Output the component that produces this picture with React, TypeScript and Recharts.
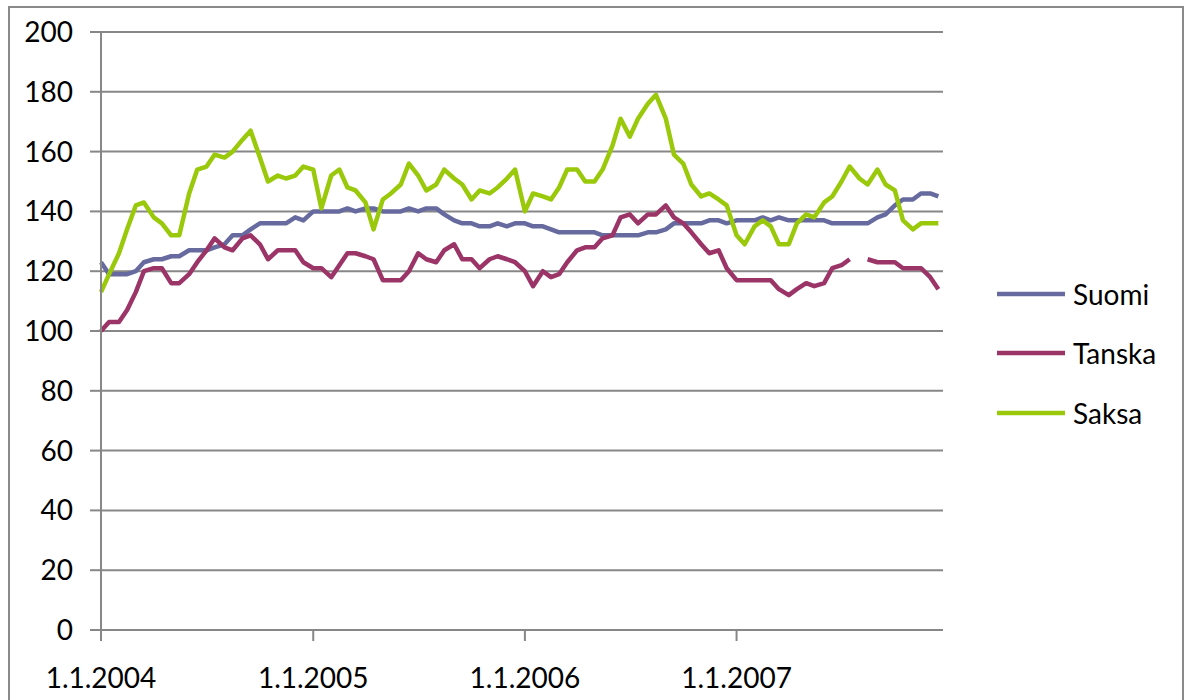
import React from 'react';
import { LineChart, Line, XAxis, YAxis, CartesianGrid } from 'recharts';

// half-monthly observations (1st and 15th), 1.1.2004 – 15.12.2007
const years = [2004, 2005, 2006, 2007];
const dayOfMonth = [1, 15];

const suomi = [
  123, 119, 119, 119, 120, 123, 124, 124, 125, 125, 127, 127, 127, 128, 129, 132, 132, 134, 136, 136, 136, 136, 138, 137,
  140, 140, 140, 140, 141, 140, 141, 141, 140, 140, 140, 141, 140, 141, 141, 139, 137, 136, 136, 135, 135, 136, 135, 136,
  136, 135, 135, 134, 133, 133, 133, 133, 133, 132, 132, 132, 132, 132, 133, 133, 134, 136, 136, 136, 136, 137, 137, 136,
  137, 137, 137, 138, 137, 138, 137, 137, 137, 137, 137, 136, 136, 136, 136, 136, 138, 139, 142, 144, 144, 146, 146, 145,
];

const tanska: (number | null)[] = [
  100, 103, 103, 107, 113, 120, 121, 121, 116, 116, 119, 123, 127, 131, 128, 127, 131, 132, 129, 124, 127, 127, 127, 123,
  121, 121, 118, 122, 126, 126, 125, 124, 117, 117, 117, 120, 126, 124, 123, 127, 129, 124, 124, 121, 124, 125, 124, 123,
  120, 115, 120, 118, 119, 123, 127, 128, 128, 131, 132, 138, 139, 136, 139, 139, 142, 138, 136, 133, 129, 126, 127, 121,
  117, 117, 117, 117, 117, 114, 112, 114, 116, 115, 116, 121, 122, 124, null, 124, 123, 123, 123, 121, 121, 121, 118, 114,
];

const saksa = [
  113, 119, 126, 134, 142, 143, 138, 136, 132, 132, 146, 154, 155, 159, 158, 160, 164, 167, 158, 150, 152, 151, 152, 155,
  154, 141, 152, 154, 148, 147, 143, 134, 144, 146, 149, 156, 152, 147, 149, 154, 151, 149, 144, 147, 146, 148, 151, 154,
  140, 146, 145, 144, 148, 154, 154, 150, 150, 154, 162, 171, 165, 171, 176, 179, 171, 159, 156, 149, 145, 146, 144, 142,
  132, 129, 135, 137, 135, 129, 129, 136, 139, 138, 143, 145, 150, 155, 151, 149, 154, 149, 147, 137, 134, 136, 136, 136,
];

const yTicks = [0, 20, 40, 60, 80, 100, 120, 140, 160, 180, 200];
const xTickYears = [2004, 2005, 2006, 2007];

const DAY = 86400000;
const origin = Date.UTC(2004, 0, 1);
const toDay = (y: number, m: number, d: number) => Math.round((Date.UTC(y, m, d) - origin) / DAY);

const days: number[] = [];
years.forEach((y) => {
  for (let m = 0; m < 12; m++) dayOfMonth.forEach((d) => days.push(toDay(y, m, d)));
});

const data = days.map((d, i) => ({ d, Suomi: suomi[i], Tanska: tanska[i], Saksa: saksa[i] }));
const xTicks = xTickYears.map((y) => toDay(y, 0, 1));
const tickLabel = (v: number) => {
  const dt = new Date(origin + v * DAY);
  return `${dt.getUTCDate()}.${dt.getUTCMonth() + 1}.${dt.getUTCFullYear()}`;
};

const series = [
  { key: 'Suomi', color: '#676a9e' },
  { key: 'Tanska', color: '#9b3467' },
  { key: 'Saksa', color: '#99c90a' },
];

const GRID = '#878787';
const FONT = 'Lato, "Open Sans", sans-serif';

// legend drawn beside the plot, as in the Excel original
const LegendBox = () => (
  <div style={{ position: 'absolute', left: 997, top: 264, fontFamily: FONT, fontSize: 28, color: '#000' }}>
    {series.map((s) => (
      <div key={s.key} style={{ display: 'flex', alignItems: 'center', height: 59.5 }}>
        <svg width={68} height={6} style={{ marginRight: 8 }}>
          <line x1={0} y1={3} x2={68} y2={3} stroke={s.color} strokeWidth={4.5} />
        </svg>
        <span>{s.key}</span>
      </div>
    ))}
  </div>
);

export default function App() {
  return (
    <div style={{ position: 'absolute', left: 0, top: 0, width: 1188, height: 700, overflow: 'hidden', background: '#fff' }}>
      <div style={{ position: 'absolute', left: 8, top: 6, width: 1172, height: 720, border: '2px solid #8a8a8a' }} />
      <div style={{ position: 'absolute', left: 0, top: 0 }}>
        <LineChart width={1188} height={700} data={data} margin={{ top: 32, right: 245, bottom: 0, left: 0 }}>
          <CartesianGrid vertical={false} stroke={GRID} strokeWidth={2} />
          <XAxis
            dataKey="d"
            type="number"
            domain={[0, 1452]}
            ticks={xTicks}
            tickFormatter={tickLabel}
            height={70}
            tickSize={11}
            tickMargin={27}
            axisLine={{ stroke: GRID, strokeWidth: 2 }}
            tickLine={{ stroke: GRID, strokeWidth: 2 }}
            tick={{ fill: '#000', fontSize: 28, fontFamily: FONT }}
            interval={0}
          />
          <YAxis
            domain={[0, 200]}
            ticks={yTicks}
            width={101}
            tickSize={11}
            tickMargin={17}
            axisLine={{ stroke: GRID, strokeWidth: 2 }}
            tickLine={{ stroke: GRID, strokeWidth: 2 }}
            tick={{ fill: '#000', fontSize: 28, fontFamily: FONT }}
            interval={0}
          />
          {series.map((s) => (
            <Line
              key={s.key}
              dataKey={s.key}
              type="linear"
              stroke={s.color}
              strokeWidth={4.5}
              strokeLinejoin="round"
              dot={false}
              activeDot={false}
              connectNulls={false}
              isAnimationActive={false}
            />
          ))}
        </LineChart>
      </div>
      <LegendBox />
    </div>
  );
}
